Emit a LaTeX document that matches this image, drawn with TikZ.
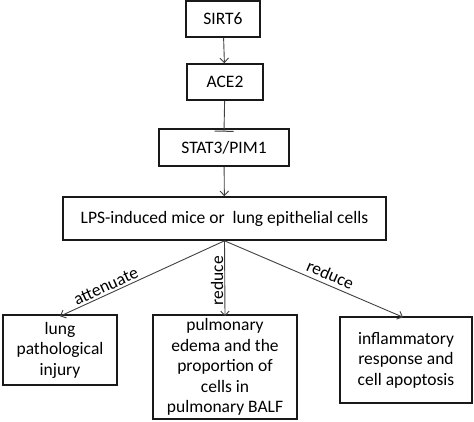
\documentclass[tikz,border=0pt]{standalone}
\usepackage{fontspec}
\setmainfont{Carlito}
\usetikzlibrary{arrows.meta}
\begin{document}
\begin{tikzpicture}[x=1pt,y=-1pt,
  box/.style={draw=black!90, line width=1.6pt, align=center, inner sep=0pt,
    font=\fontsize{17.5}{20.5}\selectfont},
  conn/.style={draw=black!75, line width=0.9pt},
  arr/.style={conn, -{Straight Barb[length=4.5pt,width=8.5pt]}},
  inh/.style={conn, -{Bar[width=19pt,line width=1pt]}},
  lbl/.style={font=\fontsize{17.5}{20.5}\selectfont, inner sep=1pt}]
\useasboundingbox (0,0) rectangle (474,422);
\node[box, minimum width=74pt, minimum height=36pt] (sirt) at (223,19) {SIRT6};
\node[box, minimum width=76pt, minimum height=36pt] (ace) at (225,82) {ACE2};
\node[box, minimum width=130pt, minimum height=37pt] (stat) at (224,147.5) {STAT3/PIM1};
\node[box, minimum width=323pt, minimum height=43pt] (lps) at (224.5,218.5) {LPS-induced mice or\ \ lung epithelial cells};
\node[box, minimum width=114pt, minimum height=70pt] (left) at (60,350) {lung\\pathological\\injury};
\node[box, minimum width=144pt, minimum height=104pt] (mid) at (225,367) {pulmonary\\edema and the\\proportion of\\cells in\\pulmonary BALF};
\node[box, minimum width=132pt, minimum height=86pt] (right) at (406,360) {inflammatory\\response and\\cell apoptosis};
\draw[arr] (sirt) -- (ace);
\draw[inh] (ace) -- ([yshift=-3.5pt]stat.north);
\draw[arr] (stat) -- (lps);
\draw[arr] (lps.south) -- node[lbl, pos=0.7, sloped, above=1pt] {attenuate} ([yshift=-2pt]left.north);
\draw[arr] (lps.south) -- node[lbl, pos=0.53, rotate=90, anchor=south] {reduce} ([yshift=-2pt]mid.north);
\draw[arr] (lps.south) -- node[lbl, pos=0.57, sloped, above=3pt] {reduce} ([xshift=-3pt,yshift=-1pt]right.north);
\end{tikzpicture}
\end{document}
